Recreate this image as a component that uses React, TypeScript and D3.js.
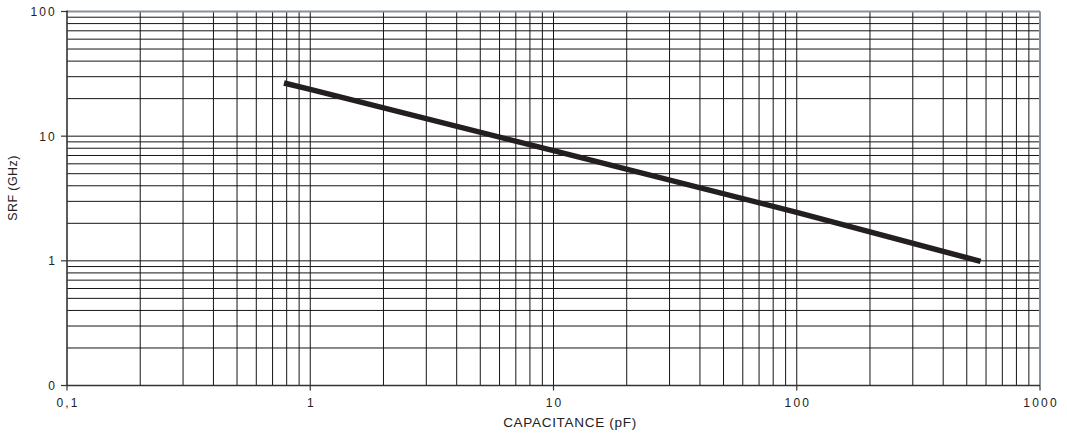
import React from "react";
import * as d3 from "d3";

const capacitance = [0.78, 1, 10, 100, 570];
const srf = [26.7, 23.7, 7.65, 2.45, 0.99];
const xTickValues = [0.1, 1, 10, 100, 1000];
const xTickLabels = ["0,1", "1", "10", "100", "1000"];
const yTickValues = [0.1, 1, 10, 100];
const yTickLabels = ["0", "1", "10", "100"];

const W = 1067;
const H = 434;
const left = 67;
const right = 1040;
const top = 11.5;
const bottom = 385.5;

export default function App() {
  const x = d3.scaleLog().domain([0.1, 1000]).range([left, right]);
  const y = d3.scaleLog().domain([0.1, 100]).range([bottom, top]);

  const xGrid: number[] = [];
  for (let d = 0.1; d < 1000; d *= 10) {
    for (let k = 1; k <= 9; k++) {
      const v = +(d * k).toPrecision(3);
      if (v > 0.1) xGrid.push(v);
    }
  }
  const yGrid: number[] = [];
  for (let d = 0.1; d < 100; d *= 10) {
    for (let k = 1; k <= 9; k++) {
      const v = +(d * k).toPrecision(3);
      if (v > 0.1) yGrid.push(v);
    }
  }

  const line = d3
    .line<number>()
    .x((_, i) => x(capacitance[i]))
    .y((d) => y(d));

  const font = "'Liberation Sans', Arial, Helvetica, sans-serif";

  return (
    <svg
      width={W}
      height={H}
      style={{ position: "absolute", left: 0, top: 0, background: "#fff" }}
    >
      <rect x={0} y={0} width={W} height={H} fill="#fff" />
      {xGrid.map((v) => (
        <line
          key={"xg" + v}
          x1={x(v)}
          x2={x(v)}
          y1={top}
          y2={bottom}
          stroke="#151515"
          strokeWidth={1}
        />
      ))}
      {yGrid.map((v) => (
        <line
          key={"yg" + v}
          x1={left}
          x2={right}
          y1={y(v)}
          y2={y(v)}
          stroke="#151515"
          strokeWidth={1}
        />
      ))}
      {/* top and right border */}
      <line x1={left} x2={right} y1={top} y2={top} stroke="#8a9098" strokeWidth={2} />
      <line x1={right} x2={right} y1={top} y2={bottom} stroke="#8a9098" strokeWidth={2} />
      {/* axes */}
      <line x1={left} x2={left} y1={top - 1} y2={bottom} stroke="#333" strokeWidth={1.6} />
      <line x1={left} x2={right} y1={bottom} y2={bottom} stroke="#333" strokeWidth={1.6} />
      {yTickValues.map((v, i) => (
        <g key={"yt" + v}>
          <line x1={left - 6} x2={left} y1={y(v)} y2={y(v)} stroke="#333" strokeWidth={1.2} />
          <text
            x={57}
            y={y(v) + 4.5}
            textAnchor="end"
            fontFamily={font}
            fontSize={12}
            letterSpacing={2.2}
            fill="#222"
          >
            {yTickLabels[i]}
          </text>
        </g>
      ))}
      {xTickValues.map((v, i) => (
        <g key={"xt" + v}>
          <line x1={x(v)} x2={x(v)} y1={bottom} y2={bottom + 5} stroke="#333" strokeWidth={1.2} />
          <text
            x={x(v) + 1.1}
            y={406.5}
            textAnchor="middle"
            fontFamily={font}
            fontSize={12}
            letterSpacing={2.2}
            fill="#222"
          >
            {xTickLabels[i]}
          </text>
        </g>
      ))}
      <path
        d={line(srf) || ""}
        fill="none"
        stroke="#231f20"
        strokeWidth={5.5}
        strokeLinecap="butt"
      />
      <text
        x={570}
        y={427}
        textAnchor="middle"
        fontFamily={font}
        fontSize={13.5}
        letterSpacing={0.7}
        fill="#222"
      >
        CAPACITANCE (pF)
      </text>
      <text
        transform={`translate(17,188) rotate(-90)`}
        textAnchor="middle"
        fontFamily={font}
        fontSize={12.5}
        letterSpacing={0.4}
        fill="#222"
      >
        SRF (GHz)
      </text>
    </svg>
  );
}
